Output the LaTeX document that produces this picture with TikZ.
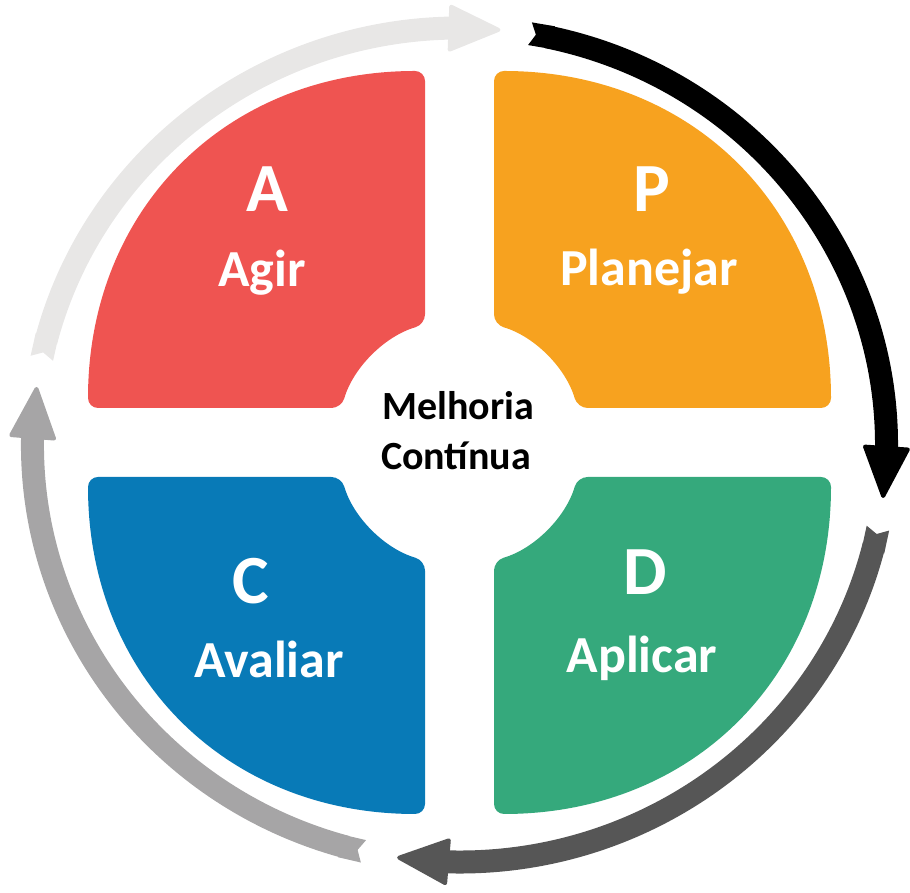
\documentclass[tikz,border=0pt]{standalone}
\usepackage{fontspec}
\setmainfont{Carlito}
\usetikzlibrary{arrows.meta,bending}

\definecolor{qred}{HTML}{EF5451}
\definecolor{qorange}{HTML}{F7A21F}
\definecolor{qblue}{HTML}{087AB7}
\definecolor{qgreen}{HTML}{35A97C}
\definecolor{ringlight}{HTML}{E8E7E6}
\definecolor{ringdark}{HTML}{565656}
\definecolor{ringmid}{HTML}{A6A5A6}

\begin{document}
\begin{tikzpicture}[x=1pt,y=1pt,
  quad/.style={rounded corners=10pt},
  ringarrow/.style={line width=23pt,
    {Triangle Cap[reversed,length=6pt]}-{Triangle[length=55pt,width=48pt,line width=4pt,round]}},
  letter/.style={text=white,font=\bfseries\fontsize{69}{80}\selectfont,inner sep=0pt,anchor=base},
  word/.style={text=white,font=\bfseries\fontsize{52}{60}\selectfont,inner sep=0pt,anchor=base},
  hub/.style={text=black,font=\bfseries\fontsize{40}{48}\selectfont,inner sep=0pt,anchor=base}]

\useasboundingbox (0,0) rectangle (910,893);

% four quadrants around a white hub circle
\fill[qred,quad] (250,485) -- (341.44,485)
  arc[start angle=163.71,end angle=106.29,radius=123] -- (425,822)
  .. controls (226.2,822) and (88,683.8) .. (88,485) -- cycle;
\fill[qorange,quad] (700,485) -- (577.56,485)
  arc[start angle=16.29,end angle=73.71,radius=123] -- (494,822)
  .. controls (692.8,822) and (831,683.8) .. (831,485) -- cycle;
\fill[qblue,quad] (250,416) -- (341.44,416)
  arc[start angle=196.29,end angle=253.71,radius=123] -- (425,79)
  .. controls (226.2,79) and (88,217.2) .. (88,416) -- cycle;
\fill[qgreen,quad] (700,416) -- (577.56,416)
  arc[start angle=-16.29,end angle=-73.71,radius=123] -- (494,79)
  .. controls (692.8,79) and (831,217.2) .. (831,416) -- cycle;

% labels
\node[letter] (lA) at (267,681) {A};
\node[word]   (wA) at (262,606) {Agir};
\node[letter] (lP) at (652,681) {P};
\node[word]   (wP) at (649,607) {Planejar};
\node[letter] (lC) at (251,289) {C};
\node[word]   (wC) at (269,215) {Avaliar};
\node[letter] (lD) at (645,298) {D};
\node[word]   (wD) at (642,220) {Aplicar};
\node[hub] (hub1) at (458,473) {Melhoria};
\node[hub] (hub2) at (456,423) {Contínua};

% cycle ring of arrows
\coordinate (ring) at (459.5,448);
\coordinate (s1) at ([shift={(168:427 and 417)}]ring);
\coordinate (s2) at ([shift={(80.5:427 and 417)}]ring);
\coordinate (s3) at ([shift={(-11.5:427 and 417)}]ring);
\coordinate (s4) at ([shift={(-103:427 and 417)}]ring);

\draw[ringarrow,ringlight] (s1) arc[start angle=168,end angle=84.5,x radius=427,y radius=417];
\draw[ringarrow,black]     (s2) arc[start angle=80.5,end angle=-7.3,x radius=427,y radius=417];
\draw[ringarrow,ringdark]  (s3) arc[start angle=-11.5,end angle=-98.4,x radius=427,y radius=417];
\draw[ringarrow,ringmid]   (s4) arc[start angle=-103,end angle=-188,x radius=427,y radius=417];
\end{tikzpicture}
\end{document}
